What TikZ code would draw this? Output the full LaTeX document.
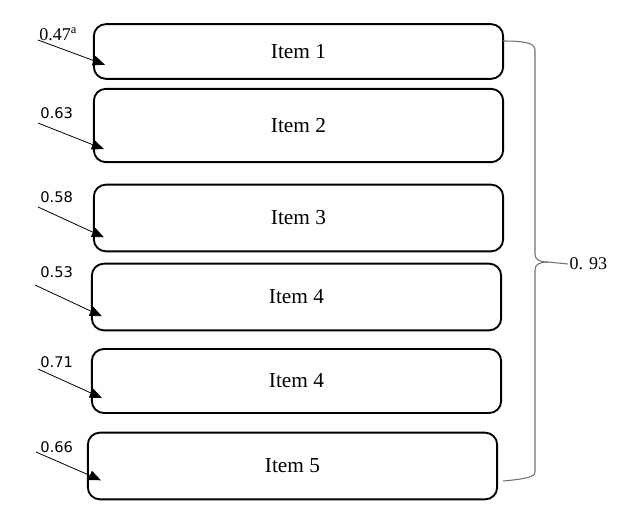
\documentclass[tikz,border=0pt]{standalone}
\usepackage{fontspec}
\setmainfont{Liberation Serif}
\newfontfamily\loadfont{DejaVu Sans}
\usetikzlibrary{arrows.meta,positioning,calc}
\tikzset{
	itembox/.style={draw, line width=1.4pt, rounded corners=9pt, minimum width=307pt, font=\fontsize{16}{18}\selectfont},
	load/.style={-{Triangle[length=9pt,width=7.5pt]}, line width=0.6pt},
	loadlabel/.style={anchor=base west, inner sep=0pt, font=\loadfont\fontsize{11}{13}\selectfont},
	brace/.style={draw=black!55, line width=0.8pt}
}

\begin{document}
\begin{tikzpicture}[x=0.75pt,y=-0.75pt]
		\useasboundingbox (0,0) rectangle (631,525);
		% items
		\node[itembox, minimum height=41pt] (b1) at (298.5,51.5) {Item 1};
		\node[itembox, minimum height=55pt] (b2) at (298.5,125.5) {Item 2};
		\node[itembox, minimum height=50pt] (b3) at (298.5,218) {Item 3};
		\node[itembox, minimum height=50pt] (b4) at (296.5,297) {Item 4};
		\node[itembox, minimum height=48pt] (b5) at (296.5,381) {Item 4};
		\node[itembox, minimum height=50pt] (b6) at (292.5,466) {Item 5};
		% loadings
		\coordinate (s1) at (38,40);
		\node[loadlabel, font=\fontsize{13.5}{15}\selectfont] (l1) at (39,40) {0.47$^{\mathrm{a}}$};
		\foreach \i/\sx/\sy/\lab/\ly in {2/38/123/0.63/118, 3/38/207/0.58/202, 4/35/285/0.53/277, 5/38/369/0.71/367, 6/36/452/0.66/452} {
			\coordinate (s\i) at (\sx,\sy);
			\node[loadlabel] (l\i) at (40,\ly) {\lab};}
		\foreach \i/\dx/\dy in {1/12/-15, 2/11/-14, 3/11/-15, 4/11/-15, 5/11/-16, 6/14/-20} {
			\draw[load] (s\i) -- ([shift={(\dx,\dy)}]b\i.south west);}
		% reliability
		\coordinate (bt) at (503,41);
		\coordinate (bb) at (503,481);
		\node[anchor=west, inner sep=1pt, font=\fontsize{13.5}{15}\selectfont] (rel) at (568,264) {0. 93};
		\path[brace] (bt) .. controls (525,41) and (535,43) .. (535,50) -- (535,254)
			.. controls (535,260) and (540,262) .. (548,262) -- (rel.west);
		\path[brace] (548,262) .. controls (540,262) and (535,264) .. (535,270) -- (535,472)
			.. controls (535,477) and (525,479) .. (bb);
	\end{tikzpicture}
\end{document}
